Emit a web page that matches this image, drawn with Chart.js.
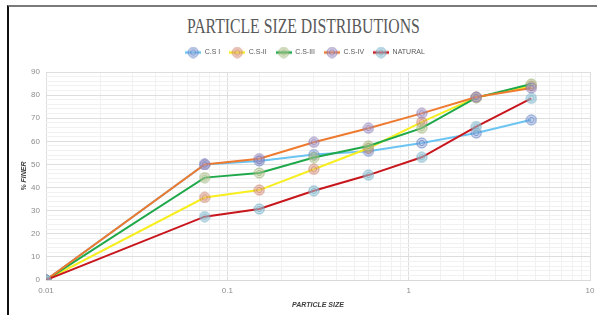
<!DOCTYPE html>
<html>
<head>
<meta charset="utf-8">
<script src="https://cdn.jsdelivr.net/npm/chart.js@4.4.1/dist/chart.umd.min.js"></script>
<style>
    html, body { margin: 0; padding: 0; background: #fff; }
    #wrap { position: relative; width: 597px; height: 320px; overflow: hidden; }
    #frame { position: absolute; left: 7px; top: 5px; width: 600px; height: 310px;
             border-left: 2px solid #111; border-top: 2px solid #7a7a7a; box-sizing: border-box; }
    #title { position: absolute; left: 0; top: 14px; width: 597px; text-align: center;
             font-family: "Liberation Serif", "DejaVu Serif", serif; font-size: 21px; color: #595959;
             transform: scaleX(0.75); transform-origin: 318px 0; white-space: nowrap; }
    #chartBox { position: absolute; left: 0; top: 0; width: 597px; height: 320px; }
</style>
</head>
<body>
<div id="wrap">
    <div id="frame"></div>
    <div id="title">PARTICLE SIZE DISTRIBUTIONS</div>
    <div id="chartBox"><canvas id="psdChart" width="597" height="320"></canvas></div>
</div>
<script>
// sieve sizes (mm) and % finer
const sieveSizes = [0.01, 0.075, 0.15, 0.3, 0.6, 1.18, 2.36, 4.75];
const seriesNames = ['C.S I', 'C.S-II', 'C.S-III', 'C.S-IV', 'NATURAL'];
const csI      = [0, 50.0, 51.5, 54.3, 55.7, 59.3, 63.6, 69.3];
const csII     = [0, 35.7, 38.9, 47.9, 57.0, 68.3, 79.0, 84.0];
const csIII    = [0, 44.3, 46.3, 53.0, 58.0, 65.7, 78.9, 84.8];
const csIV     = [0, 50.0, 52.5, 59.6, 65.7, 72.1, 79.2, 83.1];
const natural  = [0, 27.4, 30.7, 38.6, 45.4, 53.1, 66.4, 78.6];
const xTickLabels = ['0.01', '0.1', '1', '10'];
const yTickLabels = ['0', '10', '20', '30', '40', '50', '60', '70', '80', '90'];

const lineColors   = ['#6cc4f2', '#f7ee1f', '#1fa84a', '#ee7a30', '#c8161d'];
const markerRings  = ['rgba(90,120,190,0.75)', 'rgba(200,120,100,0.75)', 'rgba(150,175,110,0.75)', 'rgba(130,115,175,0.75)', 'rgba(110,170,195,0.8)'];
const markerFills  = ['rgba(150,175,220,0.45)', 'rgba(225,165,140,0.45)', 'rgba(190,205,160,0.45)', 'rgba(175,160,205,0.45)', 'rgba(160,205,220,0.5)'];

const labelFont = '"Liberation Sans", sans-serif';

function makeMarker(ring, fill) {
    const c = document.createElement('canvas');
    c.width = 12; c.height = 12;
    const g = c.getContext('2d');
    g.beginPath(); g.arc(6, 6, 5, 0, Math.PI * 2);
    g.fillStyle = fill; g.fill();
    g.lineWidth = 1; g.strokeStyle = ring; g.stroke();
    g.beginPath(); g.arc(6, 6, 2.6, 0, Math.PI * 2); g.stroke();
    return c;
}

function makeLegendIcon(color, ring, fill) {
    const c = document.createElement('canvas');
    c.width = 16; c.height = 12;
    const g = c.getContext('2d');
    g.strokeStyle = color; g.lineWidth = 2.5;
    g.beginPath(); g.moveTo(0, 6); g.lineTo(16, 6); g.stroke();
    g.drawImage(makeMarker(ring, fill), 2, 0);
    return c;
}

const allSeries = [csI, csII, csIII, csIV, natural];
const markers = allSeries.map((s, i) => makeMarker(markerRings[i], markerFills[i]));
const legendIcons = allSeries.map((s, i) => makeLegendIcon(lineColors[i], markerRings[i], markerFills[i]));

const datasets = allSeries.map((vals, i) => ({
    label: seriesNames[i],
    data: vals.map((v, k) => ({ x: sieveSizes[k], y: v })),
    borderColor: lineColors[i],
    backgroundColor: lineColors[i],
    borderWidth: 2,
    pointStyle: markers[i],
    pointRadius: 5,
    tension: 0,
    order: allSeries.length - i  // later series drawn on top, like Excel
}));

const isPow10 = v => Math.abs(Math.log10(v) - Math.round(Math.log10(v))) < 1e-6;

// a bit of room between the legend and the plot
const legendGap = {
    id: 'legendGap',
    beforeInit(chart) {
        const fit = chart.legend.fit;
        chart.legend.fit = function () {
            fit.bind(chart.legend)();
            this.height += 6;
        };
    }
};

new Chart(document.getElementById('psdChart'), {
    type: 'line',
    data: { datasets: datasets },
    plugins: [legendGap],
    options: {
        responsive: false,
        animation: false,
        layout: { padding: { left: 20, right: 7, top: 40, bottom: 11 } },
        plugins: {
            title: { display: false },
            tooltip: { enabled: false },
            legend: {
                position: 'top',
                labels: {
                    usePointStyle: true,
                    pointStyleWidth: 16,
                    padding: 9,
                    color: '#595959',
                    font: { family: labelFont, size: 7 },
                    generateLabels: chart => chart.data.datasets.map((ds, i) => ({
                        text: ds.label,
                        pointStyle: legendIcons[i],
                        fillStyle: 'transparent',
                        strokeStyle: 'transparent',
                        lineWidth: 0,
                        fontColor: '#595959',
                        hidden: false,
                        datasetIndex: i
                    }))
                }
            }
        },
        scales: {
            x: {
                type: 'logarithmic',
                min: 0.01,
                max: 10,
                afterFit: scale => { scale.height = 29; scale.paddingRight = 0; },
                border: { color: '#d9d9d9' },
                grid: {
                    drawTicks: false,
                    color: ctx => isPow10(ctx.tick.value) ? '#dedede' : '#f1f1f1'
                },
                ticks: {
                    autoSkip: false,
                    maxRotation: 0,
                    padding: 6,
                    color: '#8c8c8c',
                    font: { family: labelFont, size: 8 },
                    callback: function (v) {
                        if (!isPow10(v)) return '';
                        const idx = Math.round(Math.log10(v)) + 2;
                        return xTickLabels[idx];
                    }
                },
                title: {
                    display: true,
                    text: 'PARTICLE SIZE',
                    color: '#404040',
                    padding: { top: 0, bottom: 0 },
                    font: { family: labelFont, size: 7, weight: 'bold', style: 'italic' }
                }
            },
            y: {
                min: 0,
                max: 90,
                afterFit: scale => { scale.width = 26; },
                border: { display: false },
                grid: {
                    drawTicks: false,
                    color: ctx => ctx.tick.value % 10 === 0 ? '#dedede' : '#f1f1f1'
                },
                ticks: {
                    stepSize: 2,
                    autoSkip: false,
                    padding: 6,
                    color: '#8c8c8c',
                    font: { family: labelFont, size: 8 },
                    callback: v => (v % 10 === 0 ? yTickLabels[v / 10] : '')
                },
                title: {
                    display: true,
                    text: '% FINER',
                    color: '#404040',
                    padding: { top: 0, bottom: 4 },
                    font: { family: labelFont, size: 7, weight: 'bold', style: 'italic' }
                }
            }
        }
    }
});
</script>
</body>
</html>
